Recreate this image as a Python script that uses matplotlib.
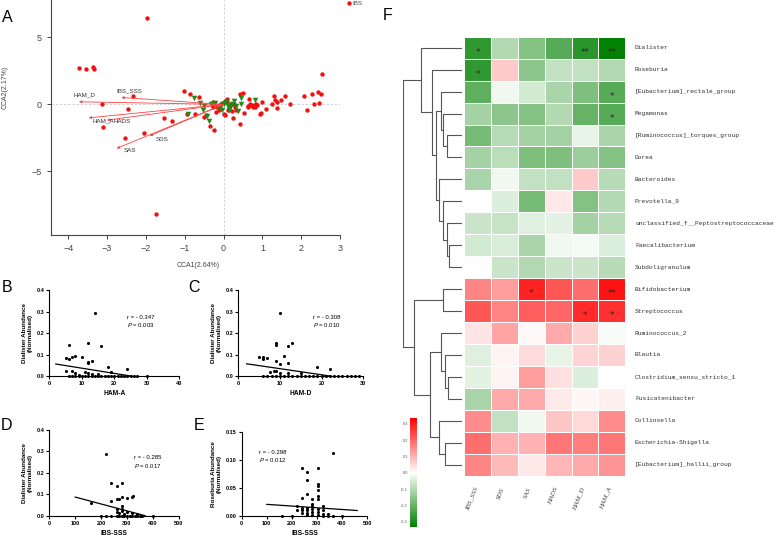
import matplotlib.pyplot as plt
import numpy as np
from matplotlib.colors import LinearSegmentedColormap
from matplotlib.ticker import FormatStrFormatter

plt.rcParams['font.family'] = ['Liberation Sans', 'DejaVu Sans']
plt.rcParams['mathtext.fontset'] = 'custom'
plt.rcParams['mathtext.it'] = 'Liberation Sans:italic'
plt.rcParams['mathtext.rm'] = 'Liberation Sans'

W, H = 778, 539

# ---------- A: CCA ----------
ibs_x = [-1.98, -3.72, -3.53, -3.36, -3.34, -3.13, -2.33, -2.46, -3.11, -2.54, -2.04, -1.52, -1.32,
         -1.74, -1.02, -0.87, -0.62, -0.95, -0.73, -0.51, -0.44, -0.35, -0.24, -0.20, -0.27, -0.26,
         0.03, 0.25, 0.43, 0.42, 0.49, 0.52, 0.64, 0.69, 0.77, 0.84, 0.82, 0.95, 1.00, 1.10, 1.24,
         1.31, 1.32, 1.37, 1.38, 1.49, 1.59, 1.71, 2.08, 2.14, 2.28, 2.33, 2.44, 2.45, 2.51, 2.53,
         0.66, 0.64, 0.71, 0.79, 0.87, 0.97, -0.09, -0.05, 0.03, 0.10, 0.15, 0.19, 0.12, 0.22,
         -0.11, -0.17, 0.09, 0.26, 0.30, 0.33, 0.02]
ibs_y = [6.47, 2.69, 2.66, 2.81, 2.64, 0.02, 0.62, -0.35, -1.67, -2.49, -2.14, -1.04, -1.22,
         -8.16, 1.04, 0.77, 0.52, -0.72, -0.72, -0.97, -0.80, -1.62, -1.92, -0.60, -0.17, 0.20,
         -0.80, -1.04, -1.44, 0.75, 0.87, -0.62, -0.22, 0.00, -0.22, 0.00, -0.22, -0.75, 0.17, -0.35, 0.00,
         0.65, 0.32, 0.17, -0.27, 0.32, 0.62, 0.02, 0.60, -0.45, 0.80, 0.00, 0.92, 0.12, 0.80, 2.26,
         0.40, -0.13, -0.05, -0.05, -0.05, -0.67, -0.13, 0.12, 0.25, 0.20, -0.13, 0.00, -0.38, -0.48,
         -0.43, -0.18, 0.37, 0.05, -0.18, -0.38, -0.72]

hc_x = [-0.76, -0.61, -0.91, -0.53, -0.37, -0.32, -0.22, -0.12, -0.06, 0.01, 0.06, 0.11, 0.18,
        0.23, 0.32, 0.37, 0.44, 0.46, 0.80, 0.15, -0.04, 0.27, -0.50, -0.43]
hc_y = [0.45, 0.12, -0.70, -0.38, -1.27, 0.07, 0.12, -0.25, -0.05, 0.07, 0.17, -0.08, -0.23,
        0.07, -0.13, -0.48, 0.07, 0.45, 0.32, -0.38, -0.43, 0.27, -0.13, -0.85]

env_names = ['HAM_D', 'IBS_SSS', 'HAM_A', 'HADS', 'SDS', 'SAS']
env_x = [-3.72, -2.63, -3.47, -3.00, -1.90, -2.75]
env_y = [0.20, 0.52, -1.00, -1.17, -2.34, -3.28]
env_lab_x = [-3.59, -2.43, -3.09, -2.62, -1.59, -2.40]
env_lab_y = [0.75, 1.02, -1.25, -1.25, -2.61, -3.46]

# ---------- B-E: correlations ----------
hama_x = [6, 12, 16, 14, 5, 6, 7, 8, 10, 12, 12, 13, 18, 24, 5, 7, 8, 11, 19, 9, 13, 15, 12,
          6, 7, 8, 9, 10, 11, 12, 13, 14, 15, 16, 17, 18, 19, 20, 21, 22, 23, 24, 25, 26, 27, 30]
hama_y = [0.145, 0.155, 0.142, 0.292, 0.082, 0.078, 0.087, 0.095, 0.089, 0.059, 0.065, 0.072,
          0.044, 0.031, 0.023, 0.023, 0.016, 0.017, 0.017, 0.006, 0.009, 0.008, 0.012,
          0, 0, 0, 0, 0, 0, 0, 0, 0, 0, 0, 0, 0, 0, 0, 0, 0, 0, 0, 0, 0, 0, 0]

hamd_x = [10, 9, 9, 13, 12, 5, 6, 6, 7, 9, 11, 10, 12, 19, 22, 7.5, 8.5, 9, 10, 12, 15,
          6, 7, 8, 9, 10, 11, 12, 13, 14, 15, 16, 17, 18, 19, 20, 21, 22, 23, 24, 25, 26, 27, 28, 29]
hamd_y = [0.292, 0.155, 0.145, 0.152, 0.140, 0.090, 0.087, 0.078, 0.082, 0.072, 0.095, 0.054,
          0.062, 0.044, 0.031, 0.020, 0.022, 0.023, 0.015, 0.016, 0.014,
          0, 0, 0, 0, 0, 0, 0, 0, 0, 0, 0, 0, 0, 0, 0, 0, 0, 0, 0, 0, 0, 0, 0, 0]

sss_d_x = [220, 240, 260, 280, 320, 322, 240, 260, 270, 280, 300, 160, 280, 280, 280, 260, 260,
           300, 320, 340, 290, 270,
           200, 220, 240, 260, 270, 280, 290, 300, 310, 320, 330, 340, 350, 360, 400]
sss_d_y = [0.290, 0.151, 0.140, 0.153, 0.089, 0.092, 0.068, 0.076, 0.079, 0.087, 0.082, 0.060,
           0.045, 0.033, 0.023, 0.030, 0.019, 0.019, 0.014, 0.008, 0.010, 0.012,
           0, 0, 0, 0, 0, 0, 0, 0, 0, 0, 0, 0, 0, 0, 0]

sss_r_x = [363, 242, 262, 302, 262, 302, 302, 302, 262, 242, 282, 302, 322, 302, 222, 222, 242,
           242, 242, 262, 262, 262, 262, 282, 282, 282, 282, 302, 302, 302, 322, 322, 342, 362,
           400, 202, 162, 282, 322, 342]
sss_r_y = [0.1125, 0.085, 0.079, 0.085, 0.064, 0.057, 0.054, 0.046, 0.040, 0.032, 0.030, 0.036,
           0.018, 0.030, 0.017, 0.011, 0.014, 0.010, 0.005, 0.014, 0.010, 0.005, 0.001, 0.018,
           0.012, 0.007, 0.002, 0.013, 0.007, 0.002, 0.010, 0.004, 0.004, 0.0, 0.0006, 0.0, 0.0,
           0.022, 0.0, 0.0]

fit_b = ([2, 25], [0.056, 0.0])
fit_c = ([2, 22], [0.057, 0.0])
fit_d = ([100, 370], [0.087, 0.0])
fit_e = ([100, 460], [0.0208, 0.0098])

# ---------- F: heatmap ----------
genera = ['Dialister', 'Roseburia', '[Eubacterium]_rectale_group', 'Megamonas',
          '[Ruminococcus]_torques_group', 'Dorea', 'Bacteroides', 'Prevotella_9',
          'unclassified_f__Peptostreptococcaceae', 'Faecalibacterium', 'Subdoligranulum',
          'Bifidobacterium', 'Streptococcus', 'Ruminococcus_2', 'Blautia',
          'Clostridium_sensu_stricto_1', 'Fusicatenibacter', 'Collinsella',
          'Escherichia-Shigella', '[Eubacterium]_hallii_group']
scales = ['IBS_SSS', 'SDS', 'SAS', 'HADS', 'HAM_D', 'HAM_A']
corr = [
    [-0.27, -0.10, -0.16, -0.22, -0.28, -0.33],
    [-0.27, 0.07, -0.15, -0.08, -0.08, -0.10],
    [-0.21, -0.02, -0.06, -0.11, -0.17, -0.22],
    [-0.12, -0.15, -0.16, -0.10, -0.20, -0.22],
    [-0.18, -0.095, -0.12, -0.12, -0.03, -0.11],
    [-0.12, -0.09, -0.17, -0.17, -0.13, -0.16],
    [-0.11, -0.02, -0.08, -0.08, 0.07, -0.095],
    [0.0, -0.045, -0.18, 0.03, -0.16, -0.10],
    [-0.07, -0.075, -0.04, -0.035, -0.12, -0.095],
    [-0.06, -0.05, -0.11, -0.02, -0.015, -0.045],
    [0.0, -0.07, -0.10, -0.07, -0.07, -0.095],
    [0.16, 0.13, 0.29, 0.22, 0.19, 0.31],
    [0.22, 0.16, 0.21, 0.20, 0.28, 0.27],
    [0.035, 0.12, 0.01, 0.11, 0.06, -0.01],
    [-0.04, 0.015, 0.045, -0.03, 0.055, 0.06],
    [-0.035, 0.015, 0.13, 0.04, -0.045, 0.0],
    [-0.115, 0.11, 0.11, 0.028, 0.012, 0.02],
    [0.15, -0.08, -0.02, 0.075, 0.05, 0.15],
    [0.19, 0.10, 0.10, 0.18, 0.17, 0.18],
    [0.16, 0.09, 0.03, 0.095, 0.11, 0.14],
]
stars = [
    ['*', '', '', '', '**', '**'],
    ['*', '', '', '', '', ''],
    ['', '', '', '', '', '*'],
    ['', '', '', '', '', '*'],
] + [[''] * 6] * 7 + [
    ['', '', '*', '', '', '**'],
    ['', '', '', '', '*', '*'],
] + [[''] * 6] * 7

# row clustering: (child a, child b, height); leaves 0-19, merges numbered from 20
merges = [(4, 5, 45), (3, 20, 57), (2, 21, 61), (9, 10, 37), (8, 23, 45), (7, 24, 57),
          (6, 25, 69), (22, 26, 77), (1, 27, 88), (0, 28, 123), (11, 12, 55), (15, 16, 40),
          (14, 31, 49), (13, 32, 61), (18, 19, 49), (17, 34, 67), (33, 35, 96), (30, 36, 142),
          (29, 37, 175)]

fig = plt.figure(figsize=(W / 100, H / 100), dpi=100)


def px_axes(left, top, right, bottom):
    return fig.add_axes([left / W, 1 - bottom / H, (right - left) / W, (bottom - top) / H])


# panel A
axA = px_axes(50.7, 0, 340, 235)
axA.axhline(0, color='#cccccc', lw=0.6, ls=(0, (3, 2)), zorder=1)
axA.axvline(0, color='#cccccc', lw=0.6, ls=(0, (3, 2)), zorder=1)
axA.scatter(ibs_x, ibs_y, s=10, c='#f01010', marker='o', linewidths=0, label='IBS', zorder=3)
axA.scatter(hc_x, hc_y, s=16, c='#22881a', marker='v', linewidths=0, zorder=4)
for name, ex, ey, lx, ly in zip(env_names, env_x, env_y, env_lab_x, env_lab_y):
    axA.annotate('', xy=(ex, ey), xytext=(0, 0),
                 arrowprops=dict(arrowstyle='-|>', color='#ff4040', lw=0.6,
                                 mutation_scale=3.5, shrinkA=0, shrinkB=0), zorder=5)
    axA.text(lx, ly, name, fontsize=4.5, color='#333333', ha='center', va='center', zorder=6)
axA.set_xlim(-4.45, 3.0)
axA.set_ylim(-9.75, 7.8)
axA.set_xticks(range(-4, 4))
axA.set_yticks([-5, 0, 5])
for s in ['top', 'right']:
    axA.spines[s].set_visible(False)
for s in ['left', 'bottom']:
    axA.spines[s].set_color('#444444')
    axA.spines[s].set_linewidth(0.8)
axA.tick_params(labelsize=6.5, colors='#444444', length=3, width=0.7)
axA.set_xlabel('CCA1(2.64%)', fontsize=5, color='#444444')
axA.set_ylabel('CCA2(2.17%)', fontsize=5, color='#444444')
axA.xaxis.set_label_coords(0.51, -0.115)
axA.yaxis.set_label_coords(-0.145, 0.63)
axA.legend(loc='upper left', bbox_to_anchor=(345 / W, 1.0), bbox_transform=fig.transFigure,
           frameon=False, fontsize=4.5, handletextpad=0.1, borderpad=0.1, borderaxespad=0,
           handlelength=1.0, labelcolor='#444444')


def corr_panel(box, x, y, fit, xlim, ylim, xticks, yticks, yfmt, xlabel, ylabel, txt_xy):
    ax = px_axes(*box)
    ax.scatter(x, y, s=5, c='black', linewidths=0, clip_on=False, zorder=3)
    ax.plot(fit[0], fit[1], color='black', lw=0.9, zorder=2)
    ax.set_xlim(*xlim)
    ax.set_ylim(*ylim)
    ax.set_xticks(xticks)
    ax.set_yticks(yticks)
    ax.yaxis.set_major_formatter(FormatStrFormatter(yfmt))
    for s in ['top', 'right']:
        ax.spines[s].set_visible(False)
    for s in ['left', 'bottom']:
        ax.spines[s].set_linewidth(0.8)
    ax.tick_params(labelsize=4, length=2, width=0.8, pad=1.5)
    for lab in ax.get_xticklabels() + ax.get_yticklabels():
        lab.set_fontweight('bold')
    ax.set_xlabel(xlabel, fontsize=4.8, fontweight='bold', labelpad=3)
    ax.set_ylabel(ylabel, fontsize=4.5, fontweight='bold', labelpad=3)
    ax.text(txt_xy[0], txt_xy[1], txt_xy[2], fontsize=4.3, ha='center', va='center',
            transform=ax.transAxes, linespacing=1.2)
    return ax


dial_lab = 'Dialister Abundance\n(Normalised)'
corr_panel((49.3, 290.3, 179.3, 376), hama_x, hama_y, fit_b, (0, 40), (0, 0.4),
           range(0, 41, 10), [0, 0.1, 0.2, 0.3, 0.4], '%.1f', 'HAM-A', dial_lab,
           (0.70, 0.63, 'r = - 0.347\n$\\it{P}$ = 0.003'))
corr_panel((238.3, 290.3, 363.3, 376), hamd_x, hamd_y, fit_c, (0, 30), (0, 0.4),
           range(0, 31, 10), [0, 0.1, 0.2, 0.3, 0.4], '%.1f', 'HAM-D', dial_lab,
           (0.71, 0.63, 'r = - 0.308\n$\\it{P}$ = 0.010'))
corr_panel((49.3, 430, 178.7, 515.7), sss_d_x, sss_d_y, fit_d, (0, 500), (0, 0.4),
           range(0, 501, 100), [0, 0.1, 0.2, 0.3, 0.4], '%.1f', 'IBS-SSS', dial_lab,
           (0.76, 0.62, 'r = - 0.285\n$\\it{P}$ = 0.017'))
corr_panel((241.7, 432, 367.2, 516), sss_r_x, sss_r_y, fit_e, (0, 500), (0, 0.15),
           range(0, 501, 100), [0, 0.05, 0.10, 0.15], '%.2f', 'IBS-SSS',
           'Roseburia Abundance\n(Normalised)',
           (0.245, 0.70, 'r = - 0.298\n$\\it{P}$ = 0.012'))

# panel labels
for lab, px, py in [('A', 7, 17), ('B', 7, 287), ('C', 194, 287), ('D', 6, 425),
                    ('E', 199, 425), ('F', 388, 15)]:
    fig.text(px / W, 1 - py / H, lab, fontsize=11.5, ha='center', va='center')

# panel F heatmap
cmap = LinearSegmentedColormap.from_list('gwr', ['#008000', '#ffffff', '#ff0000'])
axF = px_axes(464.3, 36.7, 625.3, 475.7)
mesh = axF.pcolormesh(np.array(corr), cmap=cmap, vmin=-0.335, vmax=0.335,
                      edgecolors='white', linewidth=0.4)
axF.set_xlim(0, 6)
axF.set_ylim(len(genera), 0)
axF.axis('off')
for i, row in enumerate(stars):
    for j, st in enumerate(row):
        if st:
            axF.text(j + 0.5, i + 0.72, st, fontsize=6.5, family='DejaVu Sans',
                     ha='center', va='center', color='#2a2a2a')
for i, g in enumerate(genera):
    axF.text(6.36, i + 0.5, g, fontsize=4.5, family='Liberation Mono', ha='left',
             va='center', color='#333333')
for j, sc in enumerate(scales):
    axF.text(j + 0.52, len(genera) + 0.5, sc, fontsize=5.2, family='Liberation Serif',
             style='italic', rotation=68, ha='right', va='top', color='#444444')

# dendrogram
axD = px_axes(403.3, 36.7, 461.7, 475.7)
pos = {i: (i + 0.5, 0.0) for i in range(len(genera))}
for k, (a, b, h) in enumerate(merges):
    ya, ha_ = pos[a]
    yb, hb = pos[b]
    axD.plot([ha_, h, h, hb], [ya, ya, yb, yb], color='#555555', lw=0.8)
    pos[len(genera) + k] = ((ya + yb) / 2, h)
axD.set_xlim(175, 0)
axD.set_ylim(len(genera), 0)
axD.axis('off')

# colour bar
cax = px_axes(410, 418.3, 416.7, 527.3)
cb = fig.colorbar(mesh, cax=cax, ticks=[0.3, 0.2, 0.1, 0.0, -0.1, -0.2, -0.3])
cb.outline.set_visible(False)
cax.yaxis.set_ticks_position('left')
cax.set_yticklabels(['0.3', '0.2', '0.1', '0.0', '-0.1', '-0.2', '-0.3'])
cax.tick_params(labelsize=2.8, length=0, pad=1.5, colors='#555555')

fig.savefig('out.png', dpi=100)
